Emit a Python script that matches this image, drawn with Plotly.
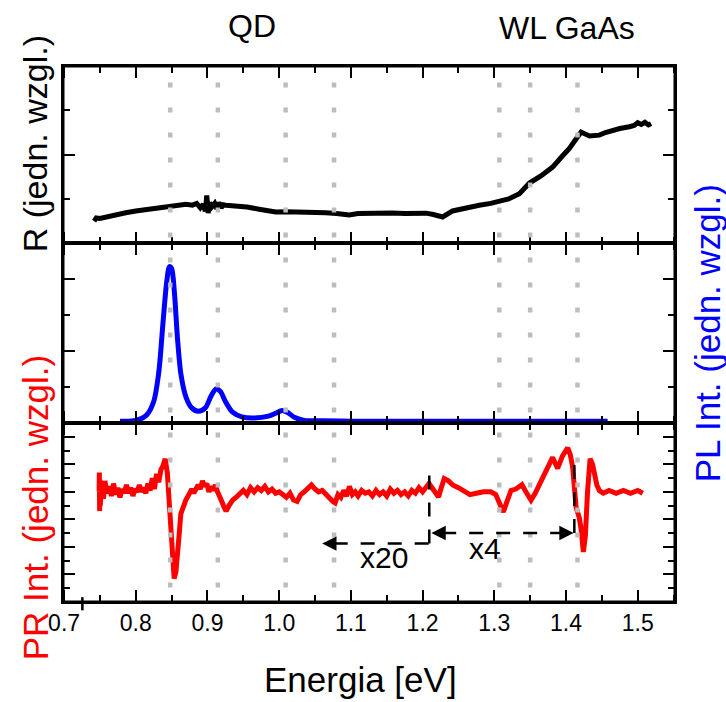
import plotly.graph_objects as go
from plotly.subplots import make_subplots

# ---------------- data ----------------
# Reflectance R (top panel)
r_energy = [0.7418, 0.745, 0.750, 0.760, 0.770, 0.786, 0.800, 0.815, 0.830, 0.8465, 0.860, 0.870,
            0.879, 0.885, 0.890, 0.894, 0.897, 0.899, 0.901, 0.903, 0.906, 0.910, 0.913, 0.916,
            0.919, 0.922, 0.9256, 0.940, 0.955, 0.972, 0.985, 0.995, 1.010, 1.030, 1.050, 1.065,
            1.080, 1.0977, 1.110, 1.130, 1.1395, 1.158, 1.175, 1.190, 1.2047, 1.215, 1.228, 1.2418,
            1.260, 1.279, 1.295, 1.307, 1.320, 1.335, 1.349, 1.365, 1.3813, 1.395, 1.4047, 1.413,
            1.421, 1.4326, 1.4465, 1.455, 1.465, 1.475, 1.4884, 1.495, 1.500, 1.505, 1.510, 1.515,
            1.5187]
r_value = [0.50, 0.57, 0.56, 0.60, 0.63, 0.69, 0.73, 0.76, 0.79, 0.82, 0.84, 0.88,
           0.86, 0.90, 0.80, 0.88, 0.72, 1.08, 0.68, 0.92, 0.82, 0.90, 0.78, 0.92,
           0.80, 0.87, 0.86, 0.85, 0.82, 0.77, 0.73, 0.707, 0.71, 0.71, 0.70, 0.69,
           0.67, 0.64, 0.67, 0.68, 0.67, 0.684, 0.67, 0.68, 0.68, 0.65, 0.594, 0.73,
           0.80, 0.858, 0.90, 0.948, 1.00, 1.12, 1.36, 1.52, 1.72, 1.97, 2.14, 2.33,
           2.51, 2.42, 2.44, 2.50, 2.55, 2.59, 2.63, 2.66, 2.72, 2.68, 2.73, 2.67,
           2.70]

# Photoluminescence PL (middle panel)
pl_energy = [0.778, 0.800, 0.815, 0.825, 0.832, 0.838, 0.843, 0.847, 0.850, 0.854, 0.858, 0.863,
             0.870, 0.878, 0.887, 0.897, 0.905, 0.912, 0.918, 0.925, 0.935, 0.948, 0.965, 0.985,
             0.995, 1.004, 1.012, 1.022, 1.035, 1.060, 1.100, 1.200, 1.300, 1.400, 1.458]
pl_value = [0.05, 0.07, 0.22, 0.60, 1.40, 2.80, 3.90, 4.35, 4.30, 3.60, 2.40, 1.35,
            0.72, 0.42, 0.33, 0.42, 0.75, 0.95, 0.88, 0.60, 0.30, 0.17, 0.14, 0.19,
            0.27, 0.35, 0.29, 0.15, 0.07, 0.06, 0.05, 0.05, 0.05, 0.05, 0.05]

# Photoreflectance PR (bottom panel)
pr_energy = [0.7489, 0.7492, 0.7496, 0.7500, 0.7505, 0.752, 0.755, 0.757, 0.760, 0.763, 0.766, 0.769,
             0.772, 0.775, 0.778, 0.781, 0.784, 0.787, 0.790, 0.793, 0.796, 0.799, 0.802, 0.805,
             0.808, 0.811, 0.814, 0.817, 0.820, 0.823, 0.826, 0.829, 0.832, 0.835, 0.838, 0.841,
             0.844, 0.846, 0.848, 0.851, 0.8535, 0.856, 0.858, 0.861, 0.8628, 0.866, 0.8698, 0.874,
             0.878, 0.881, 0.884, 0.887, 0.890, 0.893, 0.896, 0.899, 0.902, 0.905, 0.908, 0.911,
             0.914, 0.917, 0.920, 0.923, 0.926, 0.930, 0.935, 0.940, 0.945, 0.950, 0.955, 0.960,
             0.965, 0.970, 0.975, 0.980, 0.985, 0.990, 0.995, 1.000, 1.005, 1.010, 1.015, 1.020,
             1.025, 1.030, 1.035, 1.040, 1.045, 1.050, 1.055, 1.060, 1.065, 1.070, 1.075, 1.078,
             1.082, 1.086, 1.090, 1.094, 1.098, 1.102, 1.106, 1.110, 1.115, 1.120, 1.125, 1.130,
             1.135, 1.140, 1.145, 1.150, 1.155, 1.160, 1.165, 1.170, 1.175, 1.180, 1.185, 1.190,
             1.195, 1.200, 1.205, 1.209, 1.213, 1.218, 1.2223, 1.226, 1.2302, 1.236, 1.242, 1.250,
             1.258, 1.266, 1.275, 1.285, 1.295, 1.302, 1.307, 1.3126, 1.317, 1.3233, 1.330, 1.3386,
             1.344, 1.3512, 1.357, 1.3674, 1.374, 1.3813, 1.3883, 1.395, 1.4023, 1.406, 1.4093, 1.412,
             1.414, 1.4186, 1.421, 1.4242, 1.427, 1.430, 1.4336, 1.437, 1.4395, 1.443, 1.4465, 1.452,
             1.460, 1.470, 1.480, 1.490, 1.500, 1.507]
pr_value = [8.0, 9.4, 6.6, 8.9, 7.0, 8.6, 7.5, 8.8, 7.9, 8.4, 7.7, 8.6,
            7.8, 8.3, 7.6, 8.2, 7.9, 8.5, 7.9, 8.3, 7.7, 8.2, 8.0, 8.5,
            8.0, 8.3, 7.9, 8.6, 8.1, 9.0, 8.2, 9.3, 8.7, 9.6, 9.9, 10.4,
            9.4, 7.6, 5.7, 3.0, 1.7, 2.2, 3.1, 5.2, 6.4, 7.0, 7.4, 7.8,
            8.2, 7.9, 8.3, 8.5, 8.2, 8.8, 8.4, 8.6, 8.0, 8.4, 8.1, 8.5,
            8.0, 7.5, 7.3, 6.9, 6.6, 7.0, 7.4, 7.6, 7.8, 8.1, 7.8, 8.3,
            8.0, 8.3, 8.1, 8.4, 8.0, 8.2, 7.9, 8.0, 7.8, 7.6, 7.9, 7.4,
            7.3, 7.8, 8.0, 8.2, 8.5, 8.2, 8.0, 8.1, 7.8, 7.6, 7.3, 7.2,
            7.8, 7.6, 8.1, 7.7, 8.4, 7.8, 8.0, 7.7, 8.1, 7.9, 8.0, 7.7,
            8.1, 7.8, 8.0, 7.7, 8.2, 7.9, 8.1, 7.8, 8.0, 7.7, 8.1, 7.9,
            8.3, 8.0, 8.4, 8.6, 8.3, 7.9, 7.63, 8.3, 8.96, 8.8, 8.5, 8.3,
            8.1, 7.8, 7.9, 8.0, 8.0, 7.8, 7.2, 6.54, 7.2, 8.1, 8.2, 8.52,
            8.0, 7.39, 7.9, 8.96, 9.7, 10.5, 9.7, 10.6, 11.2, 10.7, 9.8, 7.8,
            6.9, 6.1, 5.3, 3.63, 4.8, 8.0, 10.41, 10.0, 9.3, 8.5, 8.1, 7.9,
            8.1, 7.9, 8.1, 7.9, 8.1, 7.9]

# Gray dotted marker lines (energies, eV)
marker_energies = [0.848, 0.9145, 1.009, 1.0765, 1.307, 1.35, 1.416]

# Scale-factor bracket in PR panel
x20_left, x20_right, x20_level, x20_top = 1.06, 1.2093, 4.24, 9.56
x4_left, x4_right, x4_level, x4_top = 1.2093, 1.4116, 5.01, 10.29
scale_labels = ["x20", "x4"]
scale_label_x = [1.1465, 1.2875]
scale_label_y = [3.25, 3.9]

x_ticks = [0.7, 0.8, 0.9, 1.0, 1.1, 1.2, 1.3, 1.4, 1.5]
x_tick_text = ["0.7", "0.8", "0.9", "1.0", "1.1", "1.2", "1.3", "1.4", "1.5"]

FONT = "Liberation Sans, Arial, sans-serif"

fig = make_subplots(rows=3, cols=1, shared_xaxes=True, vertical_spacing=0,
                    row_heights=[177.3, 179.7, 179.0])

fig.add_trace(go.Scatter(x=r_energy, y=r_value, mode="lines",
                         line=dict(color="black", width=5), showlegend=False), row=1, col=1)
fig.add_trace(go.Scatter(x=pl_energy, y=pl_value, mode="lines",
                         line=dict(color="#0000ff", width=5, shape="spline", smoothing=0.8),
                         showlegend=False), row=2, col=1)
fig.add_trace(go.Scatter(x=pr_energy, y=pr_value, mode="lines",
                         line=dict(color="#ff0000", width=5), showlegend=False), row=3, col=1)

LW = 1.5
common_x = dict(range=[0.6985, 1.552], tickmode="array", tickvals=x_ticks, ticktext=x_tick_text,
                ticks="inside", ticklen=12, tickwidth=2, tickcolor="black",
                minor=dict(dtick=0.05, tick0=0.7, ticks="inside", ticklen=7, tickwidth=2, tickcolor="black"),
                showline=True, linewidth=LW, linecolor="black", mirror="ticks",
                showgrid=False, zeroline=False,
                tickfont=dict(family=FONT, size=23, color="black"))
for r in (1, 2, 3):
    fig.update_xaxes(common_x, row=r, col=1)
fig.update_xaxes(showticklabels=False, row=1, col=1)
fig.update_xaxes(showticklabels=False, row=2, col=1)
fig.update_xaxes(showticklabels=True, row=3, col=1)

common_y = dict(ticks="inside", ticklen=12, tickwidth=2, tickcolor="black",
                tickmode="linear", tick0=0, dtick=2,
                minor=dict(dtick=1, tick0=0, ticks="inside", ticklen=7, tickwidth=2, tickcolor="black"),
                showline=True, linewidth=LW, linecolor="black", mirror="ticks",
                showgrid=False, zeroline=False, showticklabels=False)
fig.update_yaxes(common_y, range=[0, 4], row=1, col=1)
fig.update_yaxes(common_y, range=[0, 5], row=2, col=1)
fig.update_yaxes(common_y, range=[0, 13], row=3, col=1)

# outer frame thickening
fig.add_shape(type="rect", xref="paper", yref="paper", x0=0, x1=1, y0=0, y1=1,
              line=dict(color="black", width=3), layer="above")

# gray dotted verticals
for e in marker_energies:
    fig.add_shape(type="line", xref="x3", yref="paper", x0=e, x1=e, y0=0.027, y1=1.0,
                  line=dict(color="#bdbdbd", width=4.5, dash="5px,20px"), layer="above")

# odd tick near 0.7
fig.add_shape(type="line", xref="x3", yref="paper", x0=0.7255, x1=0.7255, y0=-0.0155, y1=0.009,
              line=dict(color="black", width=2.5))

dash = "14px,13px"
bracket = [
    (x20_left + 0.016, x20_level, x20_right, x20_level),
    (x20_right, x20_level, x20_right, x20_top),
    (x4_left + 0.018, x4_level, x4_right - 0.018, x4_level),
    (x4_right, x4_level, x4_right, x4_top),
]
for (xa, ya, xb, yb) in bracket:
    fig.add_shape(type="line", xref="x3", yref="y3", x0=xa, y0=ya, x1=xb, y1=yb,
                  line=dict(color="black", width=2.5, dash=dash))

arrows = [(x20_left, x20_level, x20_left + 0.018),
          (x4_left + 0.003, x4_level, x4_left + 0.021),
          (x4_right - 0.001, x4_level, x4_right - 0.019)]
for (hx, hy, tx) in arrows:
    fig.add_annotation(x=hx, y=hy, ax=tx, ay=hy, xref="x3", yref="y3", axref="x3", ayref="y3",
                       text="", showarrow=True, arrowhead=2, arrowsize=1.3, arrowwidth=2.2,
                       arrowcolor="black")

for t, xx, yy in zip(scale_labels, scale_label_x, scale_label_y):
    fig.add_annotation(x=xx, y=yy, xref="x3", yref="y3", text=t, showarrow=False,
                       xanchor="center", yanchor="middle",
                       font=dict(family=FONT, size=30, color="black"))

# texts
def label(x, y, text, size, color="black", angle=0):
    fig.add_annotation(x=x, y=y, xref="paper", yref="paper", text=text, showarrow=False,
                       xanchor="center", yanchor="middle", textangle=angle,
                       font=dict(family=FONT, size=size, color=color))

label(0.3088, 1.0741, "QD", 32)
label(0.8235, 1.0701, "WL GaAs", 32)
label(0.4853, -0.1442, "Energia [eV]", 35)
label(-0.0458, 0.8558, "R (jedn. wzgl.)", 34, "black", -90)
label(-0.0458, 0.1767, "PR Int. (jedn. wzgl.)", 35, "#ff0000", -90)
label(1.0523, 0.5013, "PL Int. (jedn. wzgl.)", 35, "#0000ff", -90)

fig.update_layout(width=726, height=702, margin=dict(l=63, r=51, t=66, b=100),
                  paper_bgcolor="white", plot_bgcolor="white", showlegend=False,
                  font=dict(family=FONT, color="black"))

fig.write_html("out.html")
